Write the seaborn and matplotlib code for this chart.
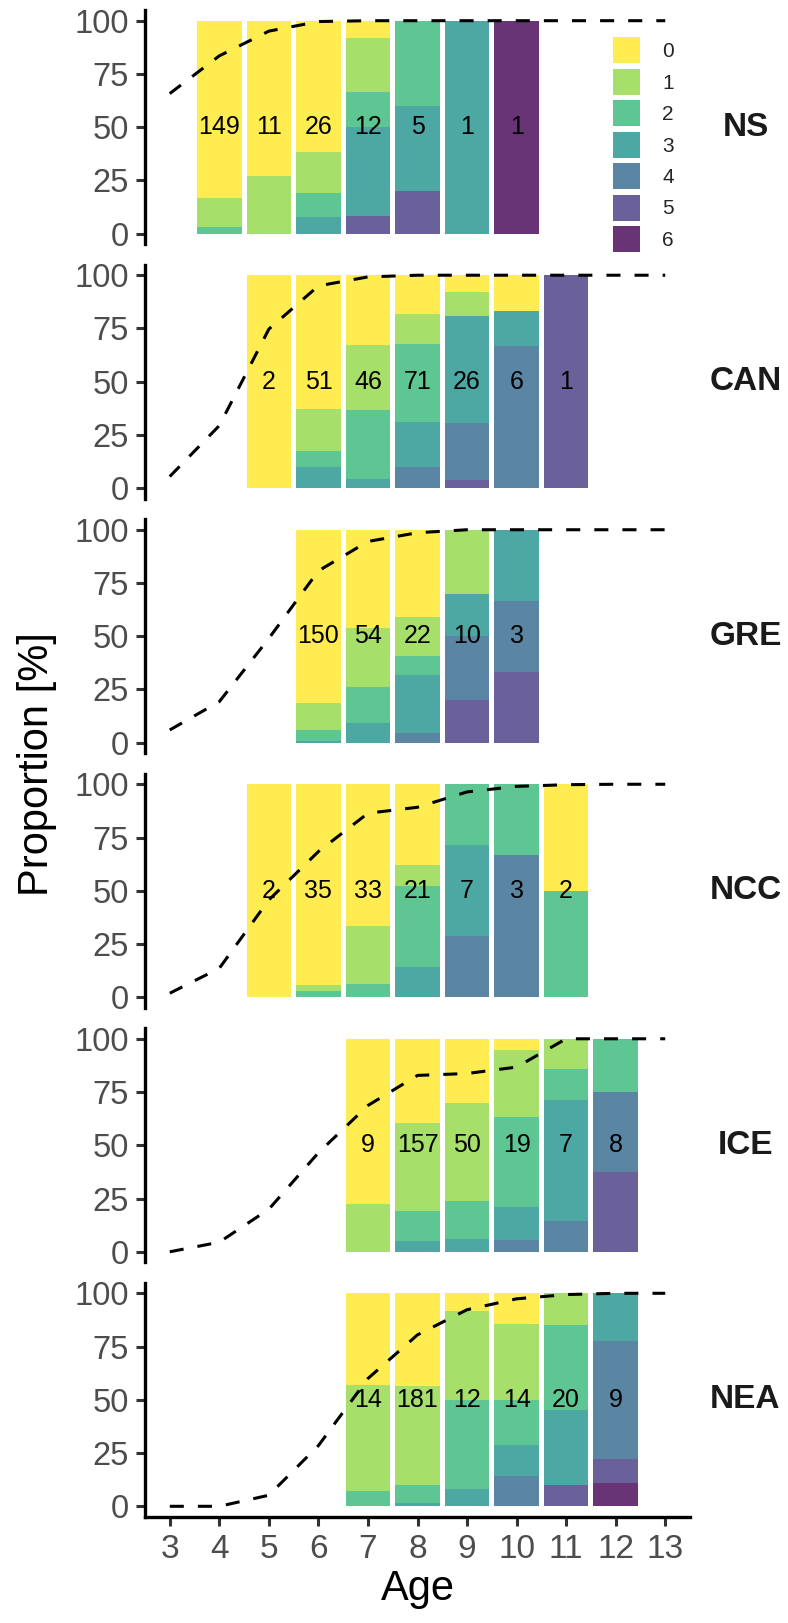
import numpy as np
import pandas as pd
import matplotlib
matplotlib.use("Agg")
import matplotlib.pyplot as plt
from matplotlib.patches import Patch
import seaborn as sns

# ---------------- data ----------------
cats = ["0", "1", "2", "3", "4", "5", "6"]
line_ages = [3, 4, 5, 6, 7, 8, 9, 10, 11, 12, 13]
x_ticks = [3, 4, 5, 6, 7, 8, 9, 10, 11, 12, 13]
y_ticks = [0, 25, 50, 75, 100]
populations = ["NS", "CAN", "GRE", "NCC", "ICE", "NEA"]

NS_ages = [4, 5, 6, 7, 8, 9, 10]
NS_n = [149, 11, 26, 12, 5, 1, 1]
NS_pct = [
    [83.4, 13.5, 3.1, 0, 0, 0, 0],
    [72.7, 27.3, 0, 0, 0, 0, 0],
    [61.5, 19.2, 11.5, 7.7, 0, 0, 0],
    [8.3, 25.0, 16.7, 41.7, 0, 8.3, 0],
    [0, 0, 40.0, 40.0, 0, 20.0, 0],
    [0, 0, 0, 100, 0, 0, 0],
    [0, 0, 0, 0, 0, 0, 100],
]
NS_line = [65.8, 83.5, 95.1, 99.6, 100, 100, 100, 100, 100, 100, 100]

CAN_ages = [5, 6, 7, 8, 9, 10, 11]
CAN_n = [2, 51, 46, 71, 26, 6, 1]
CAN_pct = [
    [100, 0, 0, 0, 0, 0, 0],
    [62.7, 19.6, 7.8, 9.8, 0, 0, 0],
    [32.6, 30.4, 32.6, 4.3, 0, 0, 0],
    [18.3, 14.1, 36.6, 21.1, 9.9, 0, 0],
    [7.7, 11.5, 0, 50.0, 26.9, 3.8, 0],
    [16.7, 0, 0, 16.7, 66.7, 0, 0],
    [0, 0, 0, 0, 0, 100, 0],
]
CAN_line = [5.5, 29.4, 74.7, 95.0, 99.2, 100, 100, 100, 100, 100, 100]

GRE_ages = [6, 7, 8, 9, 10]
GRE_n = [150, 54, 22, 10, 3]
GRE_pct = [
    [81.3, 12.7, 5.3, 0.7, 0, 0, 0],
    [46.3, 27.8, 16.7, 9.3, 0, 0, 0],
    [40.9, 18.2, 9.1, 27.3, 4.5, 0, 0],
    [0, 30.0, 0, 20.0, 30.0, 20.0, 0],
    [0, 0, 0, 33.3, 33.3, 33.3, 0],
]
GRE_line = [6.0, 19.3, 49.0, 80.7, 94.5, 98.6, 100, 100, 100, 100, 100]

NCC_ages = [5, 6, 7, 8, 9, 10, 11]
NCC_n = [2, 35, 33, 21, 7, 3, 2]
NCC_pct = [
    [100, 0, 0, 0, 0, 0, 0],
    [94.3, 2.9, 2.9, 0, 0, 0, 0],
    [66.7, 27.3, 6.1, 0, 0, 0, 0],
    [38.1, 9.5, 38.1, 14.3, 0, 0, 0],
    [0, 0, 28.6, 42.9, 28.6, 0, 0],
    [0, 0, 33.3, 0, 66.7, 0, 0],
    [50.0, 0, 50.0, 0, 0, 0, 0],
]
NCC_line = [1.9, 13.6, 45.7, 68.4, 86.4, 89.2, 96.4, 99.0, 99.8, 100, 100]

ICE_ages = [7, 8, 9, 10, 11, 12]
ICE_n = [9, 157, 50, 19, 7, 8]
ICE_pct = [
    [77.8, 22.2, 0, 0, 0, 0, 0],
    [39.5, 41.4, 14.0, 5.1, 0, 0, 0],
    [30.0, 46.0, 18.0, 6.0, 0, 0, 0],
    [5.3, 31.6, 42.1, 15.8, 5.3, 0, 0],
    [0, 14.3, 14.3, 57.1, 14.3, 0, 0],
    [0, 0, 25.0, 0, 37.5, 37.5, 0],
]
ICE_line = [0, 4.5, 20.0, 46.5, 68.7, 82.8, 83.7, 86.7, 100, 100, 100]

NEA_ages = [7, 8, 9, 10, 11, 12]
NEA_n = [14, 181, 12, 14, 20, 9]
NEA_pct = [
    [42.9, 50.0, 7.1, 0, 0, 0, 0],
    [43.6, 46.4, 8.3, 1.7, 0, 0, 0],
    [8.3, 41.7, 41.7, 8.3, 0, 0, 0],
    [14.3, 35.7, 21.4, 14.3, 14.3, 0, 0],
    [0, 15.0, 40.0, 35.0, 0, 10.0, 0],
    [0, 0, 0, 22.2, 55.6, 11.1, 11.1],
]
NEA_line = [0, 0, 5.2, 28.5, 60.0, 80.5, 92.3, 97.4, 99.4, 100, 100]

panel_ages = [NS_ages, CAN_ages, GRE_ages, NCC_ages, ICE_ages, NEA_ages]
panel_n = [NS_n, CAN_n, GRE_n, NCC_n, ICE_n, NEA_n]
panel_pct = [NS_pct, CAN_pct, GRE_pct, NCC_pct, ICE_pct, NEA_pct]
panel_line = [NS_line, CAN_line, GRE_line, NCC_line, ICE_line, NEA_line]

# ---------------- style ----------------
sns.set_theme(style="white")
plt.rcParams["font.family"] = ["Liberation Sans", "DejaVu Sans"]

W, H = 788, 1623
fig = plt.figure(figsize=(W / 100, H / 100), dpi=100)

vir = plt.get_cmap("viridis")(np.linspace(0, 1, 7))[::-1]
cols = [tuple(0.8 * np.array(c[:3]) + 0.2) for c in vir]  # alpha 0.8 on white
palette = dict(zip(cats, cols))

left_px, right_px = 145, 690
top100 = 20.7
pitch = 254.52
ppu = 2.13

for i, pop in enumerate(populations):
    top_px = top100 + i * pitch - 5 * ppu
    h_px = 110 * ppu
    ax = fig.add_axes([left_px / W, 1 - (top_px + h_px) / H,
                       (right_px - left_px) / W, h_px / H])

    rows = []
    for a, pcts in zip(panel_ages[i], panel_pct[i]):
        for c, p in zip(cats, pcts):
            rows.append({"age": a, "cat": c, "pct": p})
    df = pd.DataFrame(rows)

    sns.histplot(data=df, x="age", weights="pct", hue="cat", hue_order=cats,
                 palette=palette, multiple="stack", discrete=True, shrink=0.9,
                 linewidth=0, edgecolor="none", alpha=1, legend=False, ax=ax)

    for a, n in zip(panel_ages[i], panel_n[i]):
        ax.text(a, 50, str(n), ha="center", va="center", fontsize=18,
                color="black", zorder=5)

    sns.lineplot(x=line_ages, y=panel_line[i], ax=ax, color="black",
                 linewidth=2.2, linestyle=(0, (4.6, 4.6)), zorder=6)

    ax.set_xlim(2.5, 13.5)
    ax.set_ylim(-5, 105)
    ax.set_yticks(y_ticks)
    ax.set_ylabel("")
    ax.set_xlabel("")
    for s in ["top", "right"]:
        ax.spines[s].set_visible(False)
    ax.spines["left"].set_linewidth(2.4)
    ax.spines["left"].set_color("black")
    ax.tick_params(axis="y", left=True, length=6.5, width=2.2, color="#333333",
                   labelsize=23.5, labelcolor="#4D4D4D", pad=5)
    ax.set_xticks(x_ticks)
    if i < len(populations) - 1:
        ax.spines["bottom"].set_visible(False)
        ax.tick_params(axis="x", bottom=False, labelbottom=False)
    else:
        ax.spines["bottom"].set_linewidth(2.4)
        ax.spines["bottom"].set_color("black")
        ax.tick_params(axis="x", bottom=True, length=6.5, width=2.2,
                       color="#333333", labelsize=24, labelcolor="#4D4D4D", pad=6)
        ax.set_xlabel("Age", fontsize=30, labelpad=3, color="black")

    ax.text((745.5 - left_px) / (right_px - left_px), 0.5, pop,
            transform=ax.transAxes, ha="center", va="center", fontsize=24,
            fontweight="bold", color="#1A1A1A")

fig.text(37 / W, 1 - 764 / H, "Proportion [%]", rotation=90, ha="center",
         va="center", fontsize=30, color="black")

handles = [Patch(facecolor=palette[c], edgecolor="none") for c in cats]
fs = 15
fpx = fs * 100 / 72
key_h = 26 / fpx
hh = (key_h - 0.245) / 0.65
fig.legend(handles, cats, loc="upper left",
           bbox_to_anchor=(612.7 / W, 1 - 37.3 / H), frameon=False,
           borderpad=0, borderaxespad=0, fontsize=fs,
           handlelength=27 / fpx, handleheight=hh,
           labelspacing=5.45 / fpx, handletextpad=22.7 / fpx)

fig.savefig("out.png", dpi=100)
